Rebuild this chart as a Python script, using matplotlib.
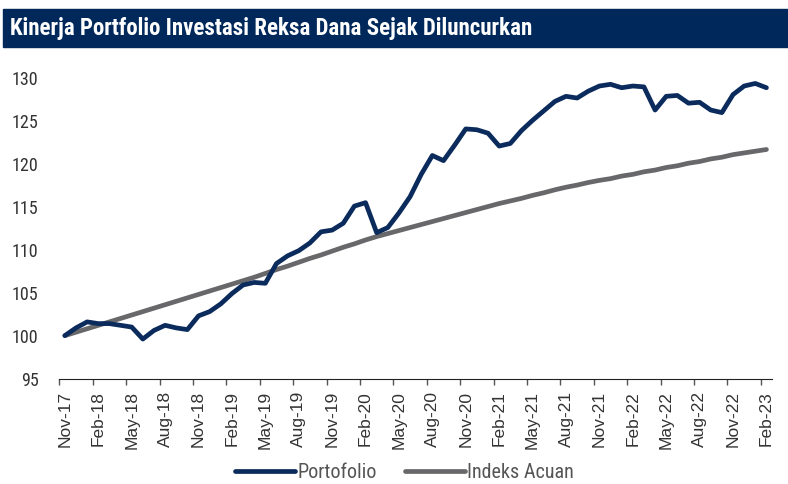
import matplotlib
matplotlib.use("Agg")
import matplotlib.pyplot as plt
from matplotlib.patches import Rectangle
from matplotlib import font_manager

# Data (monthly, Nov-17 .. Feb-23)
portofolio = [100.0, 100.9, 101.6, 101.4, 101.4, 101.2, 101.0, 99.6, 100.6, 101.2,
              100.9, 100.7, 102.3, 102.8, 103.7, 104.9, 105.9, 106.2, 106.1, 108.4,
              109.3, 109.9, 110.8, 112.1, 112.3, 113.1, 115.1, 115.5, 112.0, 112.6,
              114.3, 116.2, 118.8, 121.0, 120.4, 122.2, 124.1, 124.0, 123.6, 122.1,
              122.4, 123.9, 125.1, 126.2, 127.3, 127.9, 127.7, 128.5, 129.1, 129.3,
              128.9, 129.1, 129.0, 126.3, 127.9, 128.0, 127.1, 127.2, 126.3, 126.0,
              128.1, 129.1, 129.4, 128.9]
indeks_acuan = [100.0, 100.4, 100.8, 101.2, 101.6, 102.0, 102.4, 102.8, 103.2, 103.6,
                104.0, 104.4, 104.8, 105.2, 105.6, 106.0, 106.4, 106.8, 107.25, 107.7,
                108.1, 108.55, 109.0, 109.4, 109.85, 110.3, 110.7, 111.15, 111.55, 111.9,
                112.25, 112.6, 112.95, 113.3, 113.65, 114.0, 114.35, 114.7, 115.05, 115.4,
                115.7, 116.0, 116.35, 116.65, 117.0, 117.3, 117.55, 117.85, 118.1, 118.3,
                118.6, 118.8, 119.1, 119.3, 119.6, 119.8, 120.1, 120.3, 120.6, 120.8,
                121.1, 121.3, 121.5, 121.7]
tick_labels = ["Nov-17", "Feb-18", "May-18", "Aug-18", "Nov-18", "Feb-19", "May-19",
               "Aug-19", "Nov-19", "Feb-20", "May-20", "Aug-20", "Nov-20", "Feb-21",
               "May-21", "Aug-21", "Nov-21", "Feb-22", "May-22", "Aug-22", "Nov-22",
               "Feb-23"]
yticks = [95, 100, 105, 110, 115, 120, 125, 130]

navy = "#0a2b5c"
grey = "#68686b"

# condensed font if one is installed
names = {f.name for f in font_manager.fontManager.ttflist}
narrow = [n for n in ["Liberation Sans Narrow", "DejaVu Sans Condensed", "Roboto Condensed",
                      "Open Sans Condensed"] if n in names]
cond = len(narrow) > 0
narrow = narrow + ["Liberation Sans", "DejaVu Sans"]
regular = ["Liberation Sans", "DejaVu Sans"]

fig = plt.figure(figsize=(7.88, 4.84), dpi=100)

# title banner
fig.patches.append(Rectangle((3 / 788, 1 - 47 / 484), 1, 38 / 484,
                             transform=fig.transFigure, color="#00285a", zorder=0))
fig.text(10 / 788, 1 - 29 / 484, "Kinerja Portfolio Investasi Reksa Dana Sejak Diluncurkan",
         color="white", fontsize=16.5 if cond else 13.5, fontweight="bold", family=narrow,
         va="center")

ax = fig.add_axes([59.3 / 788, 1 - 378.5 / 484, (772 - 59.3) / 788, (378.5 - 78.3) / 484])
x = list(range(len(portofolio)))
ax.plot(x, portofolio, color=navy, lw=3.4, solid_capstyle="round", label="Portofolio",
        clip_on=False, zorder=3)
ax.plot(x, indeks_acuan, color=grey, lw=3.4, solid_capstyle="round", label="Indeks Acuan",
        clip_on=False, zorder=2)

ax.set_xlim(-0.5, len(portofolio) - 0.5)
ax.set_ylim(95, 130)
for s in ["top", "right", "left"]:
    ax.spines[s].set_visible(False)
ax.spines["bottom"].set_color("#222222")

ax.set_yticks(yticks)
ax.set_yticklabels([str(v) for v in yticks], family=narrow, fontsize=13 if cond else 11.5,
                   color="#333333")
ax.tick_params(axis="y", length=0, pad=15)

ax.set_xticks([3 * k for k in range(len(tick_labels))])
ax.set_xticklabels(tick_labels, rotation=90, family=regular, fontsize=12.5, color="#333333")
ax.set_xticks([3 * k - 0.5 for k in range(len(tick_labels))], minor=True)
ax.tick_params(axis="x", which="major", length=0, pad=9)
ax.tick_params(axis="x", which="minor", length=4.5, width=1, color="#555555")

leg = fig.legend(loc="center", bbox_to_anchor=(0.513, 0.024), ncol=2, frameon=False,
                 prop={"family": narrow, "size": 14.5 if cond else 12}, handlelength=3.0,
                 handletextpad=0.1, columnspacing=1.4, borderpad=0.1)
for t in leg.get_texts():
    t.set_color("#555555")

fig.savefig("out.png", dpi=100)
